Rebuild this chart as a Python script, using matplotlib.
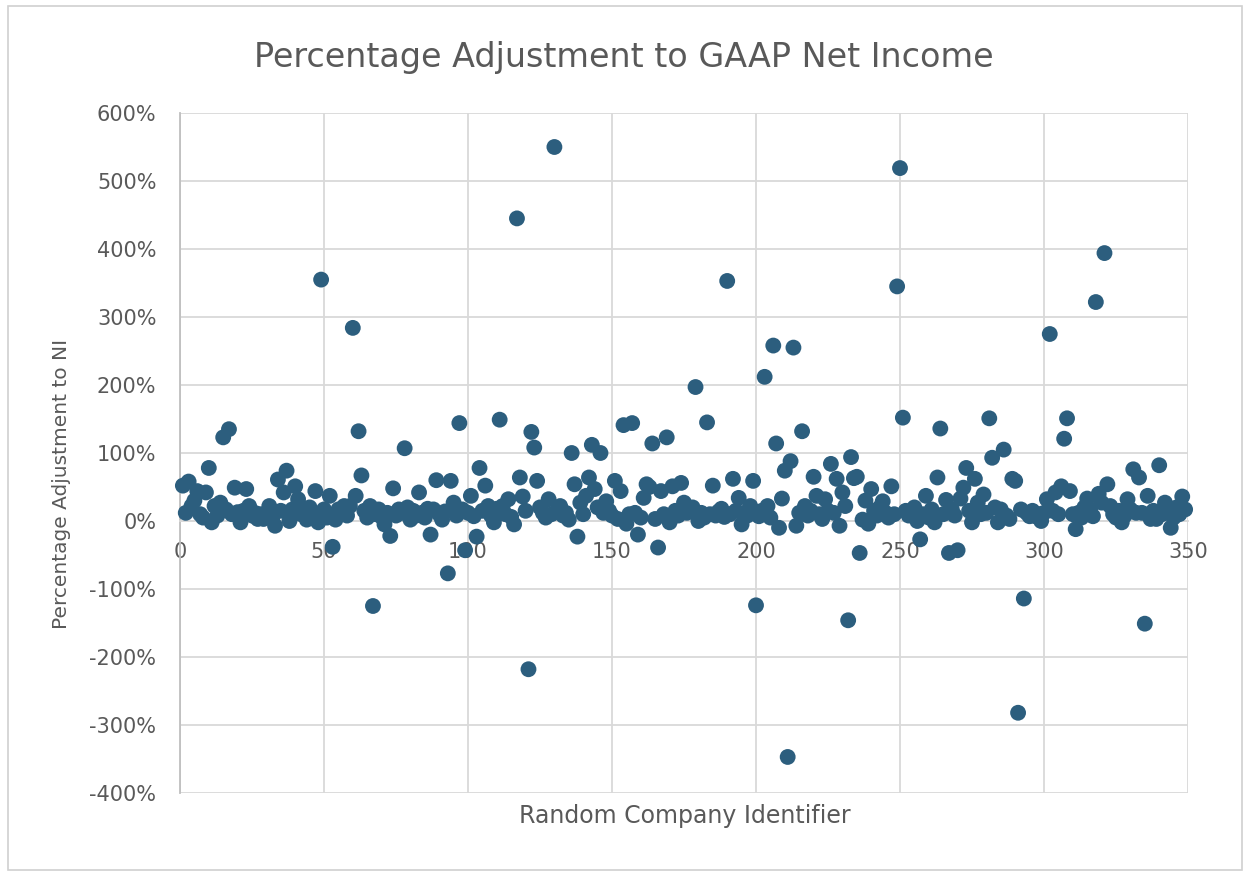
import matplotlib
matplotlib.use("Agg")
import matplotlib.pyplot as plt
from matplotlib.ticker import FuncFormatter, MultipleLocator
from matplotlib.patches import Rectangle

# Percentage adjustment (in %) for company identifiers 1..349
adj_pct = [
    52, 12, 58, 22, 30, 44, 10, 5, 42, 78,
    -2, 22, 8, 27, 123, 17, 135, 10, 49, 13,
    -2, 15, 47, 22, 8, 12, 3, 10, 3, 6,
    22, 4, -7, 61, 15, 42, 74, 0, 17, 51,
    32, 10, 17, 2, 20, 8, 44, -2, 355, 17,
    5, 37, -38, 2, 17, 10, 22, 8, 22, 284,
    37, 132, 67, 15, 5, 22, -125, 10, 17, 6,
    -5, 12, -22, 48, 8, 17, 12, 107, 20, 2,
    15, 8, 42, 12, 5, 18, -20, 17, 60, 10,
    2, 14, -77, 59, 27, 8, 144, 17, -43, 12,
    37, 7, -23, 78, 15, 52, 22, 8, -2, 18,
    149, 22, 10, 32, 6, -5, 445, 64, 36, 15,
    -218, 131, 108, 59, 20, 12, 5, 32, 10, 550,
    15, 22, 8, 12, 2, 100, 54, -23, 27, 10,
    37, 64, 112, 47, 20, 100, 12, 29, 15, 8,
    59, 3, 44, 141, -4, 10, 144, 12, -20, 5,
    34, 54, 50, 114, 3, -39, 44, 10, 123, -2,
    51, 15, 8, 56, 27, 12, 17, 20, 197, 0,
    12, 5, 145, 10, 52, 8, 14, 18, 6, 353,
    10, 62, 15, 34, -5, 12, 8, 22, 59, -124,
    7, 15, 212, 22, 5, 258, 114, -10, 33, 74,
    -347, 88, 255, -7, 12, 132, 22, 8, 15, 65,
    37, 10, 3, 32, 15, 84, 12, 62, -7, 42,
    22, -146, 94, 63, 65, -47, 2, 30, -4, 47,
    15, 8, 20, 29, 12, 5, 51, 10, 345, 519,
    152, 15, 8, 14, 20, 0, -27, 10, 37, 5,
    17, -2, 64, 136, 10, 31, -47, 17, 8, -43,
    33, 49, 78, 15, -2, 62, 27, 10, 39, 12,
    151, 93, 20, -2, 17, 105, 8, 3, 62, 59,
    -282, 17, -114, 12, 7, 15, 7, 10, 0, 12,
    32, 275, 15, 42, 10, 51, 121, 151, 44, 10,
    -12, 12, 5, 20, 33, 17, 7, 322, 40, 27,
    394, 54, 22, 10, 5, 15, -2, 8, 32, 17,
    76, 12, 64, 12, -151, 37, 3, 15, 3, 82,
    10, 27, 17, -10, 5, 20, 10, 36, 17,
]
company_id = list(range(1, len(adj_pct) + 1))
adj = [v / 100 for v in adj_pct]

title = "Percentage Adjustment to GAAP Net Income"
xlabel = "Random Company Identifier"
ylabel = "Percentage Adjustment to NI"

W, H = 1252, 876
fig = plt.figure(figsize=(W / 100, H / 100), dpi=100)
fig.patch.set_facecolor("white")
fig.patches.append(Rectangle((8 / W, 6 / H), 1234 / W, 864 / H, transform=fig.transFigure,
                             fill=False, edgecolor="#d0d0d0", linewidth=1.2))

ax = fig.add_axes([180 / W, 1 - 793 / H, 1008 / W, 680 / H])
ax.set_xlim(0, 350)
ax.set_ylim(-4, 6)
ax.xaxis.set_major_locator(MultipleLocator(50))
ax.yaxis.set_major_locator(MultipleLocator(1))
ax.yaxis.set_major_formatter(FuncFormatter(lambda v, p: f"{v*100:.0f}%"))
ax.grid(True, color="#d9d9d9", linewidth=1.3)
ax.set_axisbelow(True)

for s in ["top", "right"]:
    ax.spines[s].set_visible(False)
ax.spines["left"].set_color("#bfbfbf")
ax.spines["left"].set_linewidth(1.3)
ax.spines["bottom"].set_position(("data", 0))
ax.spines["bottom"].set_color("#d9d9d9")
ax.spines["bottom"].set_linewidth(1.3)
ax.tick_params(length=0, labelsize=15, labelcolor="#595959")
ax.tick_params(axis="y", pad=17)
ax.tick_params(axis="x", pad=15)

ax.scatter(company_id, adj, s=130, color="#2C5E7E", edgecolors="none", zorder=3, clip_on=False)

fig.text(624 / W, 1 - 57 / H, title, ha="center", va="center", fontsize=24, color="#595959")
fig.text(685 / W, 1 - 816 / H, xlabel, ha="center", va="center", fontsize=17, color="#595959")
fig.text(62 / W, 1 - 484 / H, ylabel, ha="center", va="center", rotation=90, fontsize=14.5, color="#595959")

fig.savefig("out.png", dpi=100)
